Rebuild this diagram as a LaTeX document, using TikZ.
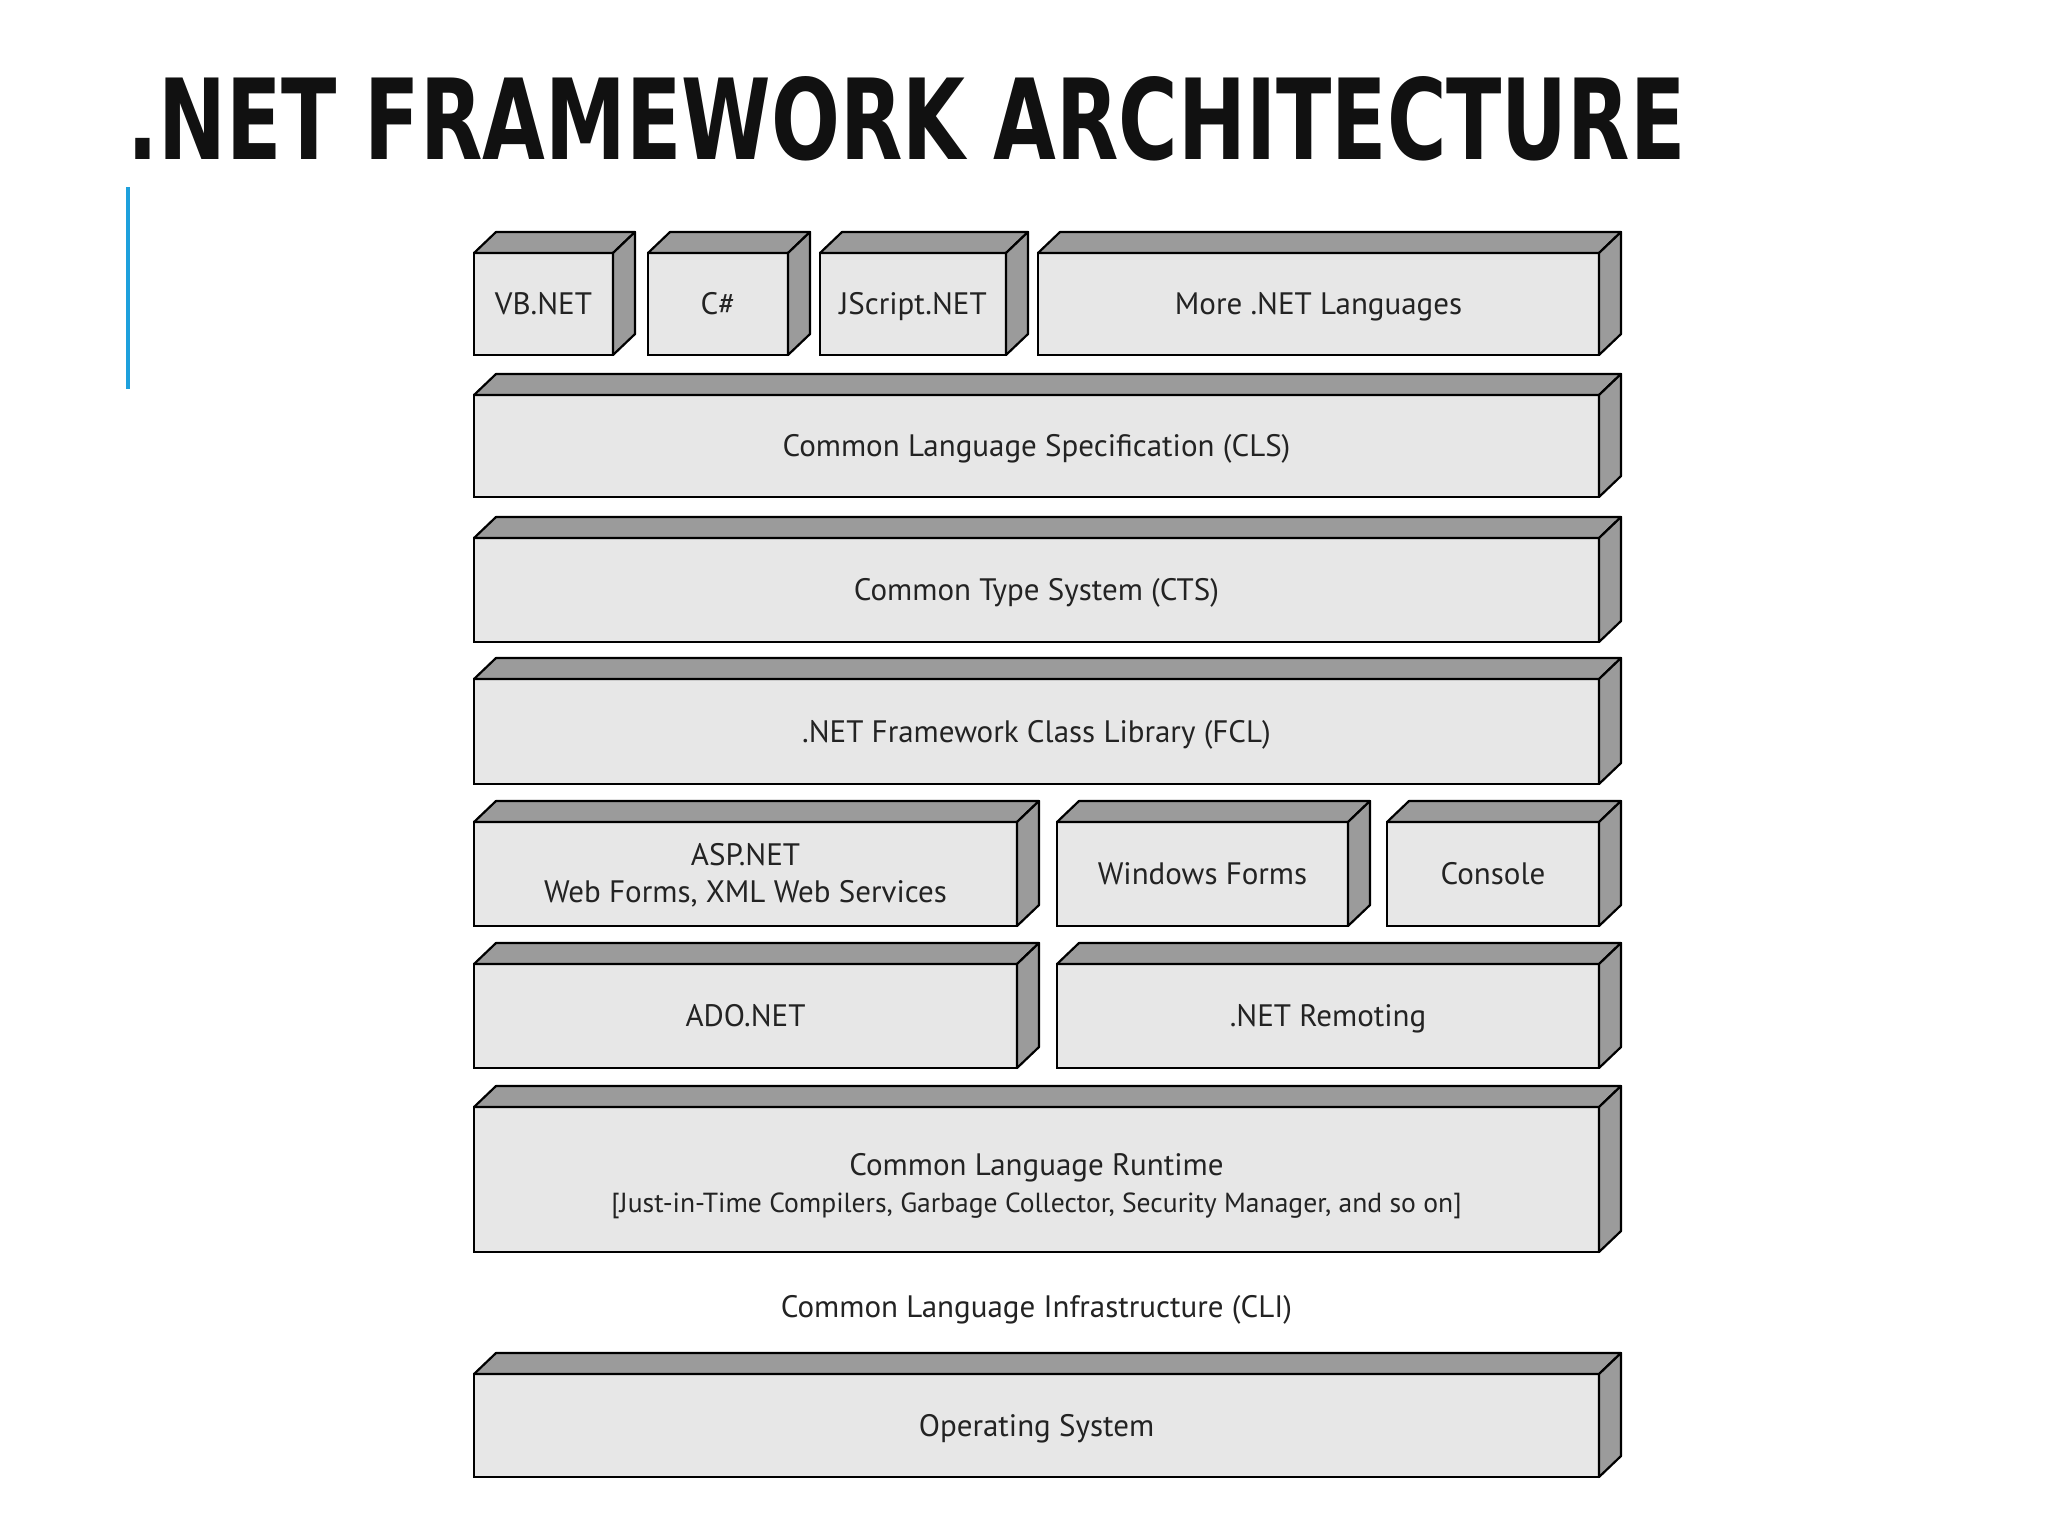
\documentclass[tikz,border=0pt]{standalone}
\usepackage{fontspec}
\setmainfont{PT Sans}
\newfontfamily\titlefont{DejaVu Sans Condensed}
\usepackage{graphicx}
\usetikzlibrary{positioning}
\definecolor{facegrey}{RGB}{231,231,231}
\definecolor{sidegrey}{RGB}{155,155,155}
\definecolor{slideblue}{RGB}{30,160,220}
\definecolor{titleblack}{RGB}{17,17,17}
\definecolor{textgrey}{RGB}{35,35,35}
% top and side faces of a layer block
\newcommand{\slab}[1]{%
  \filldraw[face] (#1.north west) -- ++(22,-21) -- ([shift={(22,-21)}]#1.north east) -- (#1.north east) -- cycle;
  \filldraw[face] (#1.north east) -- ++(22,-21) -- ([shift={(22,-21)}]#1.south east) -- (#1.south east) -- cycle;}

\begin{document}
\begin{tikzpicture}[x=0.5pt, y=-0.5pt,
    layer/.style={rectangle, draw=black, fill=facegrey, line width=1.1pt,
        inner sep=0pt, outer sep=0pt, minimum height=51pt, align=center,
        text height=14pt, text depth=3.2pt,
        text=textgrey, font=\fontsize{15.5}{18.3}\selectfont},
    twoline/.style={text height=#1, text depth=3pt},
    boxw/.style={minimum width=#1*0.5pt},
    boxh/.style={minimum height=#1*0.5pt},
    face/.style={draw=black, fill=sidegrey, line width=1.1pt, line join=round},
    node distance=19.5pt
]
\fill[white] (0,0) rectangle (2048,1536);
\useasboundingbox (0,0) rectangle (2048,1536);
% title and accent bar
\node[anchor=base west, inner sep=0pt, text=titleblack] (title) at (127,159)
    {\resizebox{779pt}{41.5pt}{\titlefont\bfseries .NET FRAMEWORK ARCHITECTURE}};
\coordinate (bartop) at (128,187);
\coordinate (barbot) at (128,389);
\draw[slideblue, line width=2pt] (bartop) -- (barbot);
% language row
\node[layer, boxw=1125, boxh=102] (cls) at (1036.5,446) {Common Language Specification (CLS)};
\node[layer, boxw=139, boxh=102, above=20pt of cls.north west, anchor=south west] (vbnet) {VB.NET};
\node[layer, boxw=140, boxh=102, right=17.5pt of vbnet] (csharp) {C\#};
\node[layer, boxw=186, boxh=102, right=16pt of csharp] (jscript) {JScript.NET};
\node[layer, boxw=561, boxh=102, right=16pt of jscript] (morelang) {More .NET Languages};
% shared layers
\node[layer, boxw=1125, boxh=104, below=20.5pt of cls] (cts) {Common Type System (CTS)};
\node[layer, boxw=1125, boxh=105, below=18.5pt of cts] (fcl) {.NET Framework Class Library (FCL)};
\node[layer, twoline=31.2pt, boxw=543, boxh=104, below=19pt of fcl.south west, anchor=north west] (aspnet)
    {ASP.NET\\Web Forms, XML Web Services};
\node[layer, boxw=291, boxh=104, right=20pt of aspnet] (winforms) {Windows Forms};
\node[layer, boxw=212, boxh=104, right=19.5pt of winforms] (console) {Console};
\node[layer, boxw=543, boxh=104, below=19pt of aspnet] (adonet) {ADO.NET};
\node[layer, boxw=542, boxh=104, right=20pt of adonet] (remoting) {.NET Remoting};
\node[layer, twoline=35.5pt, boxw=1125, boxh=145, below=19.5pt of adonet.south west, anchor=north west] (clr)
    {Common Language Runtime\\{\fontsize{13.8}{18.3}\selectfont [Just-in-Time Compilers, Garbage Collector, Security Manager, and so on]}};
\node[text=textgrey, font=\fontsize{15.5}{18.3}\selectfont] (cli) at (1036.5,1310) {Common Language Infrastructure (CLI)};
\node[layer, boxw=1125, boxh=103, below=61pt of clr] (os) {Operating System};
\foreach \n in {vbnet,csharp,jscript,morelang,cls,cts,fcl,aspnet,winforms,console,adonet,remoting,clr,os}
    {\slab{\n}}
\end{tikzpicture}
\end{document}
